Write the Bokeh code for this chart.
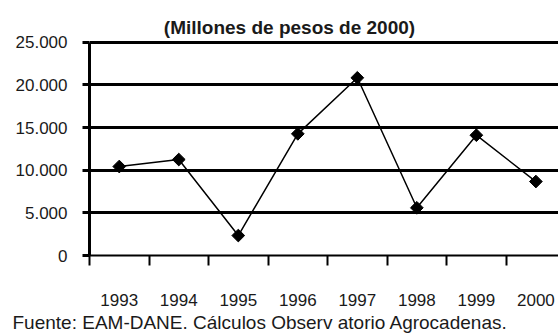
import math
from bokeh.plotting import figure
from bokeh.models import FixedTicker, Range1d, Title, Label
from bokeh.embed import file_html
from bokeh.resources import INLINE

years = ["1993", "1994", "1995", "1996", "1997", "1998", "1999", "2000"]
values = [10430, 11250, 2340, 14260, 20830, 5590, 14100, 8670]
y_ticks = [0, 5000, 10000, 15000, 20000, 25000]
y_tick_labels = ["0", "5.000", "10.000", "15.000", "20.000", "25.000"]
title_text = "(Millones de pesos de 2000)"
source_text = "Fuente: EAM-DANE. Cálculos Observ atorio Agrocadenas."

FONT = "Liberation Sans"
TXT = "#1a1a1a"

x = [i + 0.5 for i in range(len(years))]

# frame reaches the top of the canvas so the title can live inside it
p = figure(width=558, height=333, output_backend="svg", toolbar_location=None,
           x_range=Range1d(0, 7.88), y_range=Range1d(0, 29890),
           min_border_left=89, min_border_right=0, min_border_top=0, min_border_bottom=78)
p.outline_line_color = None

p.add_layout(Title(text=source_text, align="left", offset=-77, standoff=2,
                   text_font=FONT, text_font_size="19px", text_font_style="normal",
                   text_color=TXT), "below")

p.add_layout(Label(x=3.36, y=26723, text=title_text, text_align="center", text_baseline="middle",
                   text_font=FONT, text_font_size="19px", text_font_style="bold", text_color=TXT))

p.xgrid.visible = False
p.ygrid.visible = False
for v in y_ticks[1:]:
    p.hspan(y=[v], line_width=3, line_color="black")

ya = p.yaxis[0]
ya.ticker = FixedTicker(ticks=y_ticks)
ya.bounds = (y_ticks[0], y_ticks[-1])
ya.major_label_overrides = {t: l for t, l in zip(y_ticks, y_tick_labels)}
ya.axis_line_width = 3
ya.axis_line_color = "black"
ya.major_tick_out = 7
ya.major_tick_in = 0
ya.major_tick_line_width = 3
ya.minor_tick_line_color = None
ya.major_label_standoff = 15
ya.major_label_text_font = FONT
ya.major_label_text_font_size = "17px"
ya.major_label_text_color = TXT

xa = p.xaxis[0]
xa.ticker = FixedTicker(ticks=x, minor_ticks=list(range(len(years) + 1)))
xa.major_label_overrides = {xi: yr for xi, yr in zip(x, years)}
xa.major_tick_line_color = None
xa.major_tick_out = 0
xa.major_tick_in = 0
xa.minor_tick_out = 10
xa.minor_tick_in = 0
xa.minor_tick_line_width = 2
xa.minor_tick_line_color = "black"
xa.axis_line_width = 2
xa.axis_line_color = "black"
xa.major_label_standoff = 28
xa.major_label_text_font = FONT
xa.major_label_text_font_size = "17px"
xa.major_label_text_color = TXT

p.line(x, values, line_width=1.5, line_color="black")
p.scatter(x, values, marker="square", angle=math.pi / 4, size=9, fill_color="black", line_color="black")

open("out.html", "w").write(file_html(p, INLINE))
